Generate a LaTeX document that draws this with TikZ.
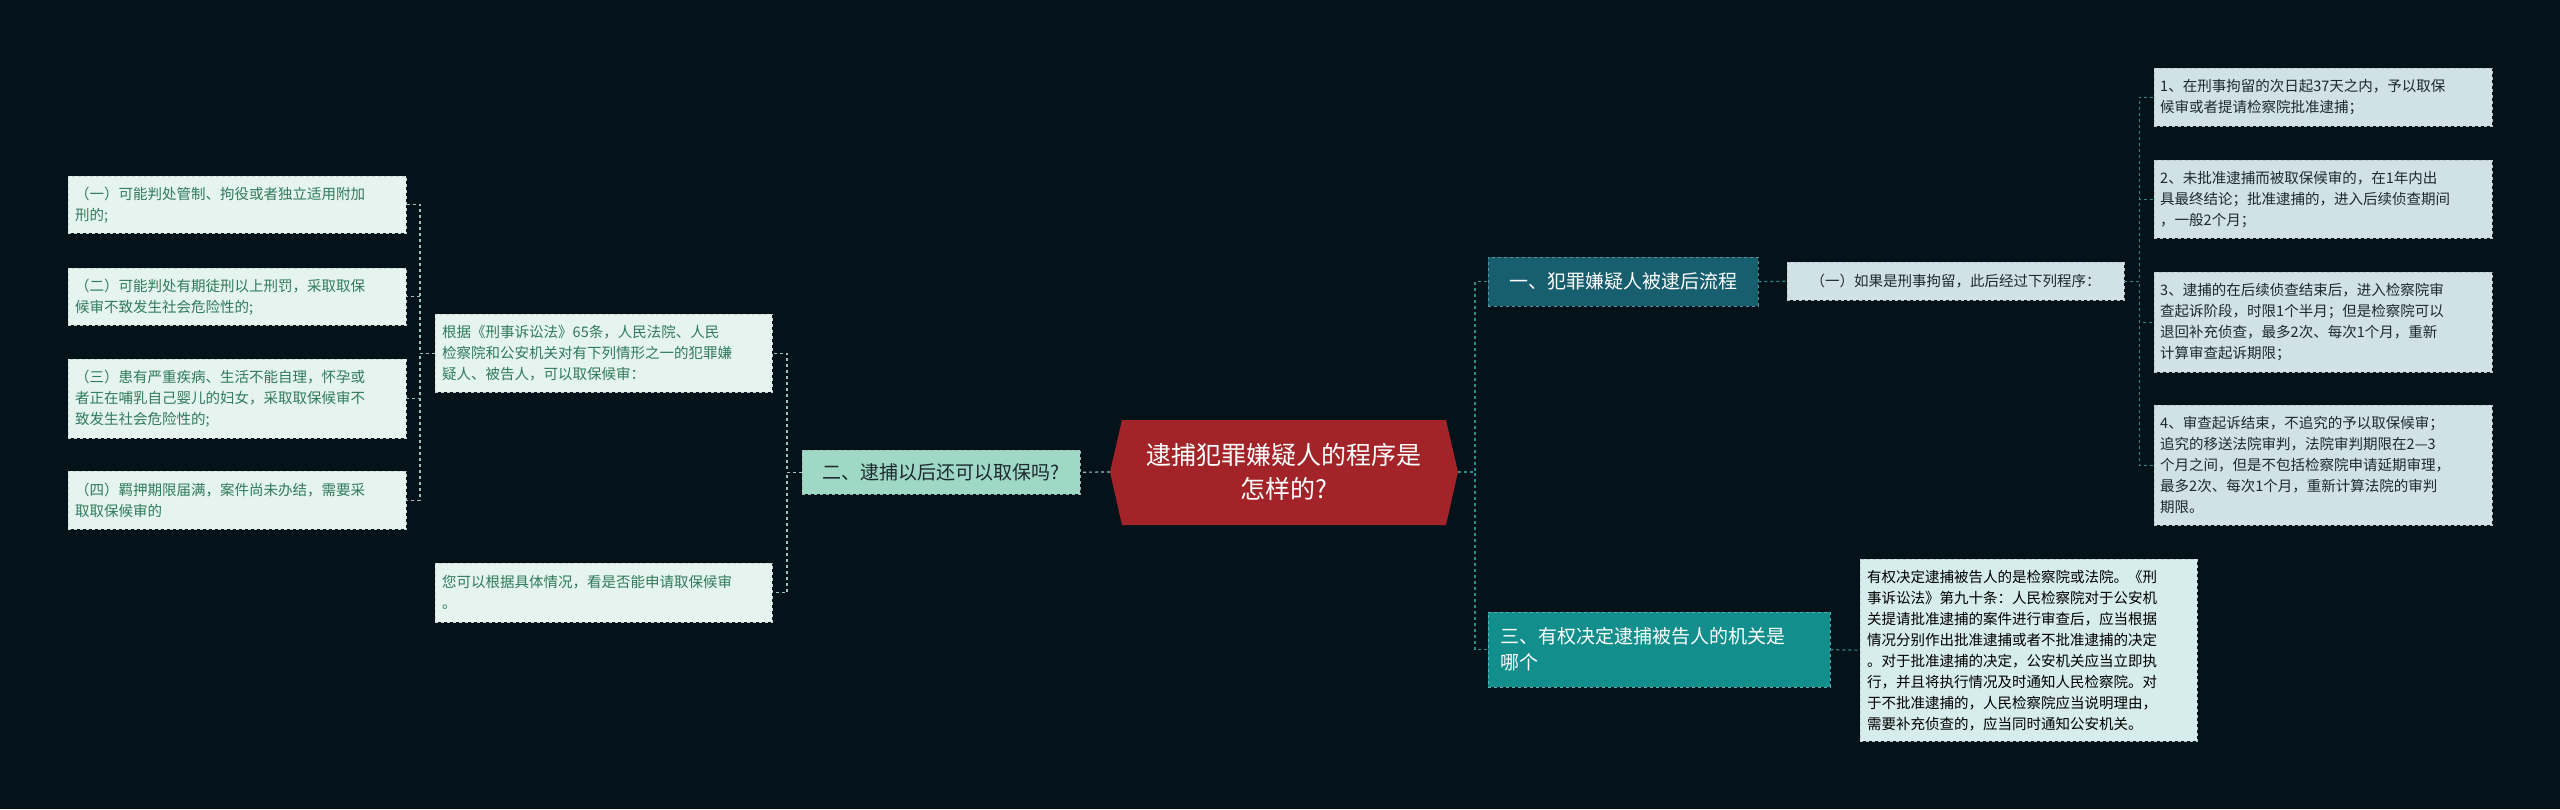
\documentclass[tikz,border=0pt]{standalone}
\usepackage{fontspec}
\setmainfont{Noto Sans CJK SC}
\definecolor{bg}{HTML}{04121A}
\definecolor{cred}{HTML}{A32428}
\definecolor{lgreen}{HTML}{9FD8C4}
\definecolor{mint}{HTML}{E6F4EF}
\definecolor{mtext}{HTML}{2F7A5C}
\definecolor{dteal}{HTML}{175E6E}
\definecolor{teal2}{HTML}{128E8C}
\definecolor{lblue}{HTML}{D0E2E5}
\definecolor{lcyan}{HTML}{D7ECEC}
\definecolor{dtext}{HTML}{1C2A30}
\tikzset{
 bx/.style={anchor=north west, dashed, inner sep=0pt, align=left, font=\fontsize{14.5}{21}\selectfont},
 sz/.style n args={3}{minimum width=#1pt, minimum height=#2pt, text width=#3pt},
 gleaf/.style={bx, fill=mint, draw=mint!70!gray, text=mtext},
 rleaf/.style={bx, fill=lblue, draw=lblue!70!gray, text=dtext},
 cleaf/.style={bx, fill=lcyan, draw=lcyan!70!gray, text=black},
 gline/.style={draw=lgreen!80!gray, dashed, line width=1.2pt},
 tline/.style={draw=teal2!80!gray, dashed, line width=1.2pt},
}
\begin{document}
\begin{tikzpicture}[x=1pt,y=-1pt]
\fill[bg] (0,0) rectangle (2560,809);
\useasboundingbox (0,0) rectangle (2560,809);
% center
\fill[cred] (1110,472) -- (1122,420) -- (1446,420) -- (1458,472) -- (1446,525) -- (1122,525) -- cycle;
\node[text=white, align=center, font=\fontsize{25}{34}\selectfont] (c) at (1284,472) {逮捕犯罪嫌疑人的程序是\\怎样的?};
\coordinate (cL) at (1110,472);
\coordinate (cR) at (1458,472);
% left branch
\node[bx, fill=lgreen, draw=lgreen!70!gray, text=dtext, font=\fontsize{19}{24}\selectfont, align=center, sz={278}{44}{268}] (b2) at (802,450) {二、逮捕以后还可以取保吗?};
\node[gleaf, sz={337}{78}{323}] (l1) at (435,314) {根据《刑事诉讼法》65条，人民法院、人民\\检察院和公安机关对有下列情形之一的犯罪嫌\\疑人、被告人，可以取保候审：};
\node[gleaf, sz={337}{59}{323}] (l2) at (435,563) {您可以根据具体情况，看是否能申请取保候审\\。};
\node[gleaf, sz={338}{57}{324}] (a1) at (68,176) {（一）可能判处管制、拘役或者独立适用附加\\刑的;};
\node[gleaf, sz={338}{57}{324}] (a2) at (68,268) {（二）可能判处有期徒刑以上刑罚，采取取保\\候审不致发生社会危险性的;};
\node[gleaf, sz={338}{79}{324}] (a3) at (68,359) {（三）患有严重疾病、生活不能自理，怀孕或\\者正在哺乳自己婴儿的妇女，采取取保候审不\\致发生社会危险性的;};
\node[gleaf, sz={338}{58}{324}] (a4) at (68,471) {（四）羁押期限届满，案件尚未办结，需要采\\取取保候审的};
% right branches
\node[bx, fill=dteal, draw=dteal!70!white, text=white, font=\fontsize{19}{24}\selectfont, align=center, sz={270}{49}{262}] (b1) at (1488,257) {一、犯罪嫌疑人被逮后流程};
\node[rleaf, align=center, sz={337}{38}{327}] (r0) at (1787,262) {（一）如果是刑事拘留，此后经过下列程序：};
\node[rleaf, sz={338}{58}{326}] (r1) at (2154,68) {1、在刑事拘留的次日起37天之内，予以取保\\候审或者提请检察院批准逮捕；};
\node[rleaf, sz={338}{78}{326}] (r2) at (2154,160) {2、未批准逮捕而被取保候审的，在1年内出\\具最终结论；批准逮捕的，进入后续侦查期间\\，一般2个月；};
\node[rleaf, sz={338}{100}{326}] (r3) at (2154,272) {3、逮捕的在后续侦查结束后，进入检察院审\\查起诉阶段，时限1个半月；但是检察院可以\\退回补充侦查，最多2次、每次1个月，重新\\计算审查起诉期限；};
\node[rleaf, sz={338}{120}{326}] (r4) at (2154,405) {4、审查起诉结束，不追究的予以取保候审；\\追究的移送法院审判，法院审判期限在2—3\\个月之间，但是不包括检察院申请延期审理，\\最多2次、每次1个月，重新计算法院的审判\\期限。};
\node[bx, fill=teal2, draw=teal2!70!white, text=white, font=\fontsize{19}{26}\selectfont, sz={342}{75}{326}] (b3) at (1488,612) {\hspace*{4pt}三、有权决定逮捕被告人的机关是\\\hspace*{4pt}哪个};
\node[cleaf, sz={337}{182}{323}] (r5) at (1860,559) {有权决定逮捕被告人的是检察院或法院。《刑\\事诉讼法》第九十条：人民检察院对于公安机\\关提请批准逮捕的案件进行审查后，应当根据\\情况分别作出批准逮捕或者不批准逮捕的决定\\。对于批准逮捕的决定，公安机关应当立即执\\行，并且将执行情况及时通知人民检察院。对\\于不批准逮捕的，人民检察院应当说明理由，\\需要补充侦查的，应当同时通知公安机关。};
% connectors left
\draw[gline] (cL) -- (b2.east);
\draw[gline] (b2.west) -- ++(-15,0) |- (l1.east);
\draw[gline] (b2.west) -- ++(-15,0) |- (l2.east);
\draw[gline] (l1.west) -- ++(-15,0) |- (a1.east);
\draw[gline] (l1.west) -- ++(-15,0) |- (a2.east);
\draw[gline] (l1.west) -- ++(-15,0) |- (a3.east);
\draw[gline] (l1.west) -- ++(-15,0) |- (a4.east);
% connectors right
\draw[tline] (cR) -- ++(17,0) |- (b1.west);
\draw[tline] (cR) -- ++(17,0) |- (b3.west);
\draw[tline] (b1.east) -- (r0.west);
\draw[tline] (b3.east) -- (r5.west);
\foreach \n in {r1,r2,r3,r4} \draw[tline] (r0.east) -- ++(15,0) |- (\n.west);
\end{tikzpicture}
\end{document}
